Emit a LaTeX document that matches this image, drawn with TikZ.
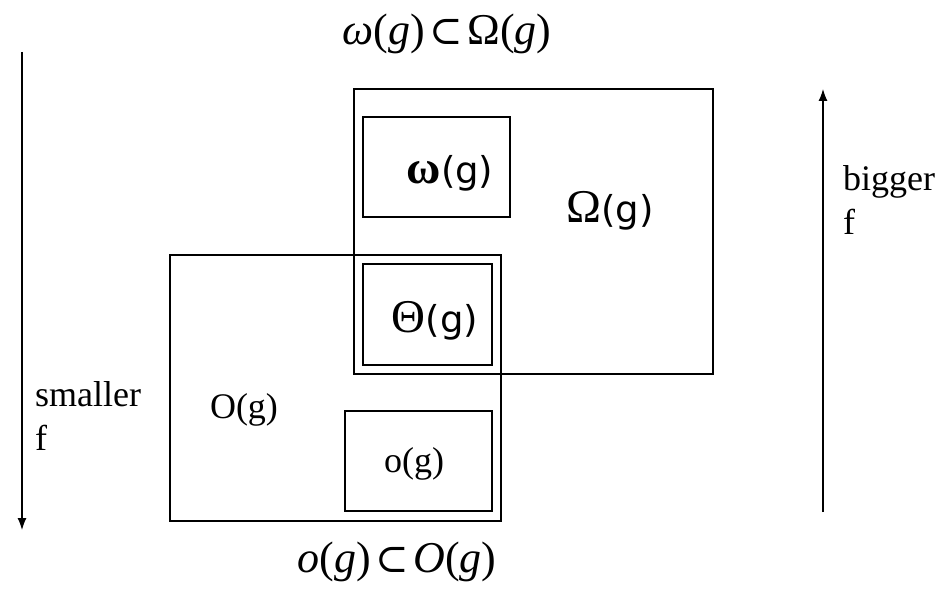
\documentclass[tikz,border=0pt]{standalone}
\usepackage{fontspec}
\setmainfont{Liberation Serif}
\newfontfamily\sansg{DejaVu Sans}
\newfontfamily\symf{DejaVu Serif}
\usetikzlibrary{arrows.meta}
\newcommand{\gsans}{{\sansg\fontsize{37}{40}\selectfont(g)}}
\newcommand{\grk}[1]{{\fontsize{47}{47}\selectfont #1}}
\newcommand{\sbset}{{\symf\fontsize{40}{40}\selectfont ⊂}}
\begin{document}
\begin{tikzpicture}[x=1pt,y=-1pt,
  box/.style={draw, line width=1.4pt, inner sep=0pt, outer sep=0pt},
  txt/.style={inner sep=0pt, font=\fontsize{36}{44}\selectfont},
  big/.style={inner sep=0pt, font=\fontsize{44}{44}\selectfont},
  glbl/.style={inner sep=0pt},
  axis/.style={line width=1.2pt, -{Latex[length=12pt,width=9pt]}}]
\useasboundingbox (0,0) rectangle (951,594);
% boxes
\node[box, minimum width=359pt, minimum height=285pt] (Om) at (533.5,231.5) {};
\node[box, minimum width=147pt, minimum height=100pt] (om) at (436.5,167) {};
\node[box, minimum width=331pt, minimum height=266pt] (O) at (335.5,388) {};
\node[box, minimum width=129pt, minimum height=101pt] (Th) at (427.5,314.5) {};
\node[box, minimum width=147pt, minimum height=100pt] (o) at (418.5,461) {};
% box labels
\node[glbl, anchor=base] (omlbl) at (450,183) {\grk{\bfseries ω}\gsans};
\node[glbl, anchor=base] (Omlbl) at (610,222) {\grk{Ω}\gsans};
\node[glbl, anchor=base] (Thlbl) at (435,332) {\grk{Θ}\gsans};
\node[txt, anchor=base] (Olbl) at (244,418) {O(g)};
\node[txt, anchor=base] (olbl) at (414,472) {o(g)};
% relation labels
\node[big, anchor=base] (toplbl) at (447,45) {\textit{ω}(\textit{g})\hspace{5pt}\sbset\hspace{4pt}Ω(\textit{g})};
\node[big, anchor=base] (botlbl) at (397,572) {\textit{o}(\textit{g})\hspace{5pt}\sbset\hspace{4pt}\textit{O}(\textit{g})};
% arrows
\coordinate (Ltop) at (22,52);
\coordinate (Lbot) at (22,530);
\coordinate (Rbot) at (823,512);
\coordinate (Rtop) at (823,89);
\draw[axis] (Ltop) -- (Lbot);
\draw[axis] (Rbot) -- (Rtop);
\node[txt, anchor=base west] (sm1) at (35,406) {smaller};
\node[txt, anchor=base west] (sm2) at (35,450) {f};
\node[txt, anchor=base west] (bg1) at (843,190) {bigger};
\node[txt, anchor=base west] (bg2) at (843,234) {f};
\end{tikzpicture}
\end{document}
